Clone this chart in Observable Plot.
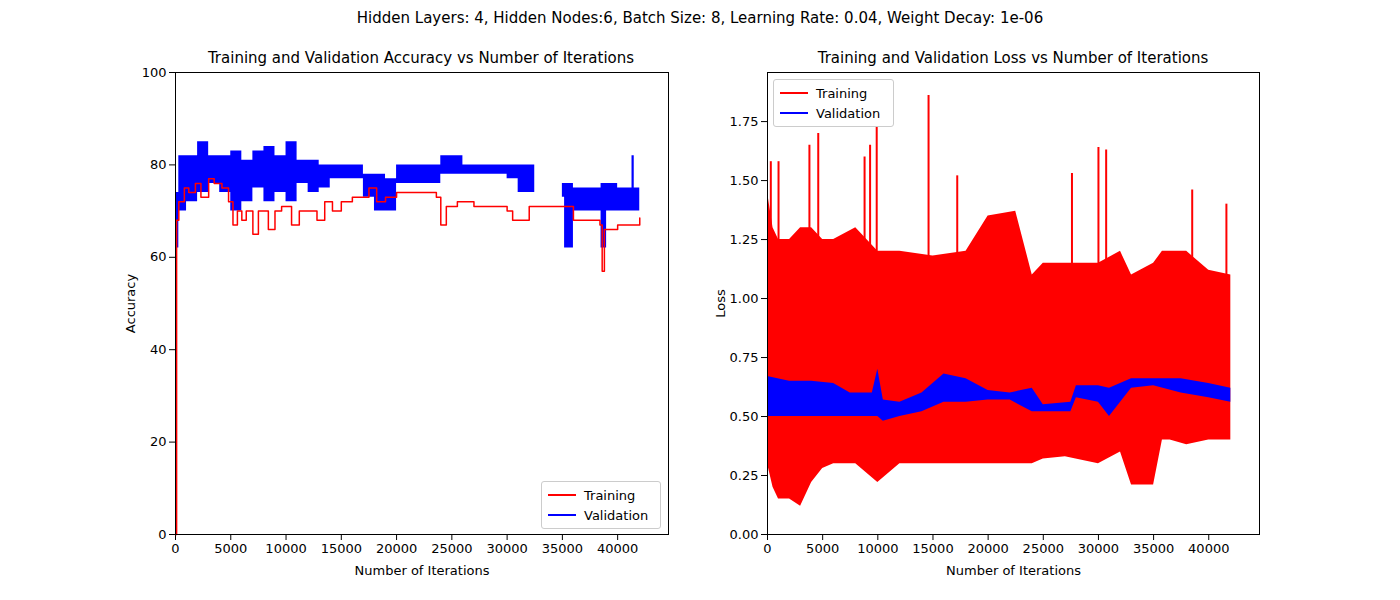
<!DOCTYPE html>
<html><head><meta charset="utf-8">
<script src="https://cdn.jsdelivr.net/npm/d3@7"></script>
<script src="https://cdn.jsdelivr.net/npm/@observablehq/plot@0.6"></script>
<style>
body{margin:0;background:#fff;font-family:"DejaVu Sans",sans-serif;}
#wrap{position:relative;width:1400px;height:600px;}
.t{position:absolute;font-size:15px;white-space:nowrap;transform:translateX(-50%);}
.pl{position:absolute;}
.leg{position:absolute;background:#fff;border:1px solid #ccc;border-radius:3px;font-size:13px;padding:3px 6px;}
.leg div{display:flex;align-items:center;height:20px;}
.leg span{display:inline-block;width:28px;height:2px;margin-right:8px;}
</style></head><body>
<div id="wrap">
<div class="t" style="left:700px;top:9px">Hidden Layers: 4, Hidden Nodes:6, Batch Size: 8, Learning Rate: 0.04, Weight Decay: 1e-06</div>
<div class="t" style="left:421px;top:49px">Training and Validation Accuracy vs Number of Iterations</div>
<div class="t" style="left:1013px;top:49px">Training and Validation Loss vs Number of Iterations</div>
<div class="pl" id="p1" style="left:100px;top:40px"></div>
<div class="pl" id="p2" style="left:700px;top:40px"></div>
<div class="leg" style="left:541px;top:481px;width:106px"><div><span style="background:red"></span>Training</div><div><span style="background:blue"></span>Validation</div></div>
<div class="leg" style="left:773px;top:79px;width:107px"><div><span style="background:red"></span>Training</div><div><span style="background:blue"></span>Validation</div></div>
</div>
<script>
// Accuracy - training line
const accTrainX = [0,100,300,800,1200,1800,2300,3000,3500,4200,4800,5200,5600,6000,6400,7000,7500,8000,8400,9000,9600,10500,11200,12000,12800,13500,14200,15000,16000,17000,17500,18200,19000,20000,21500,23000,23600,24000,24500,25500,27000,28500,30000,30500,31500,32000,33500,35000,36000,37500,38400,38600,38800,40000,41500,42000];
const accTrainY = [0,68,72,75,74,76,73,77,76,75,72,67,70,68,70,65,70,70,66,70,71,67,70,70,68,72,70,72,73,73,75,72,73,74,74,74,73,67,71,72,71,71,70,68,68,71,71,71,68,68,67,57,66,67,67,68.5];
// Accuracy - validation band
const accValX = [0,300,1000,2000,3000,4000,5000,6000,7000,8000,9000,10000,11000,12000,13000,14000,15000,16000,17000,18000,19000,20000,21000,22000,23500,24000,26000,28000,30000,31000,32500,34000,35000,35200,36000,38000,38500,39000,40000,41300,41500,42000];
const accValLo = [62,70,72,74,76,74,70,72,75,72,74,72,76,74,75,77,77,77,73,70,70,76,76,76,76,78,78,78,77,74,76,76,73,62,70,70,62,70,70,70,70,70];
const accValHi = [74,82,82,85,82,82,83,81,83,84,82,85,81,81,80,80,80,80,78,78,77,80,80,80,80,82,80,80,80,80,76,76,76,76,75,75,76,76,75,82,75,76];
// Loss - training band
const lossTrX = [0,500,1000,2000,3000,4000,5000,6000,8000,10000,12000,15000,18000,20000,22500,24000,25000,27000,30000,32000,33000,35000,35800,36500,38000,40000,42000];
const lossTrLo = [0.3,0.2,0.15,0.15,0.12,0.22,0.28,0.3,0.3,0.22,0.3,0.3,0.3,0.3,0.3,0.3,0.32,0.33,0.3,0.35,0.21,0.21,0.4,0.4,0.38,0.4,0.4];
const lossTrHi = [1.45,1.3,1.25,1.25,1.3,1.3,1.25,1.25,1.3,1.2,1.2,1.18,1.2,1.35,1.37,1.1,1.15,1.15,1.15,1.2,1.1,1.15,1.2,1.2,1.2,1.12,1.1];
const spikeX = [300,1000,3800,4600,8800,9300,9900,14600,17200,27600,30000,30700,38500,41600];
const spikeY = [1.58,1.58,1.65,1.7,1.6,1.65,1.88,1.86,1.52,1.53,1.64,1.63,1.46,1.4];
// Loss - validation band
const lossVaX = [0,2000,4000,6000,7500,9500,10000,10500,12000,14000,16000,18000,20000,22000,24000,25000,27500,28000,30000,31000,33000,35000,37500,40000,42000];
const lossVaLo = [0.5,0.5,0.5,0.5,0.5,0.5,0.5,0.48,0.5,0.52,0.56,0.56,0.57,0.57,0.52,0.52,0.52,0.58,0.56,0.5,0.62,0.63,0.6,0.58,0.56];
const lossVaHi = [0.67,0.65,0.65,0.64,0.6,0.6,0.7,0.57,0.56,0.6,0.68,0.66,0.61,0.6,0.62,0.55,0.56,0.63,0.63,0.62,0.66,0.66,0.66,0.64,0.62];

const common = {style:{fontFamily:"DejaVu Sans",fontSize:"13px",color:"#000",background:"transparent"}};
const p1 = Plot.plot({
  ...common, width:600, height:554, marginLeft:75, marginRight:32, marginTop:32, marginBottom:60,
  x:{domain:[0,44600], ticks:d3.range(0,41000,5000), tickFormat:d=>String(d), label:"Number of Iterations", labelAnchor:"center", labelArrow:"none", labelOffset:40},
  y:{domain:[0,100], ticks:d3.range(0,101,20), label:"Accuracy", labelAnchor:"center", labelArrow:"none", labelOffset:50},
  marks:[
    Plot.areaY(accValX.map((x,i)=>({x,lo:accValLo[i],hi:accValHi[i]})),{x:"x",y1:"lo",y2:"hi",fill:"blue",curve:"step-after"}),
    Plot.lineY(accTrainX.map((x,i)=>({x,y:accTrainY[i]})),{x:"x",y:"y",stroke:"red",strokeWidth:1.5,curve:"step-after"}),
    Plot.frame({stroke:"#000"})
  ]
});
document.getElementById("p1").append(p1);
const p2 = Plot.plot({
  ...common, width:600, height:554, marginLeft:67, marginRight:41, marginTop:32, marginBottom:60,
  x:{domain:[0,44600], ticks:d3.range(0,41000,5000), tickFormat:d=>String(d), label:"Number of Iterations", labelAnchor:"center", labelArrow:"none", labelOffset:40},
  y:{domain:[0,1.958], ticks:d3.range(0,1.76,0.25), tickFormat:d3.format(".2f"), label:"Loss", labelAnchor:"center", labelArrow:"none", labelOffset:52},
  marks:[
    Plot.areaY(lossTrX.map((x,i)=>({x,lo:lossTrLo[i],hi:lossTrHi[i]})),{x:"x",y1:"lo",y2:"hi",fill:"red"}),
    Plot.ruleX(spikeX.map((x,i)=>({x,y:spikeY[i]})),{x:"x",y1:0.5,y2:"y",stroke:"red",strokeWidth:2}),
    Plot.areaY(lossVaX.map((x,i)=>({x,lo:lossVaLo[i],hi:lossVaHi[i]})),{x:"x",y1:"lo",y2:"hi",fill:"blue"}),
    Plot.frame({stroke:"#000"})
  ]
});
document.getElementById("p2").append(p2);
</script>
</body></html>
